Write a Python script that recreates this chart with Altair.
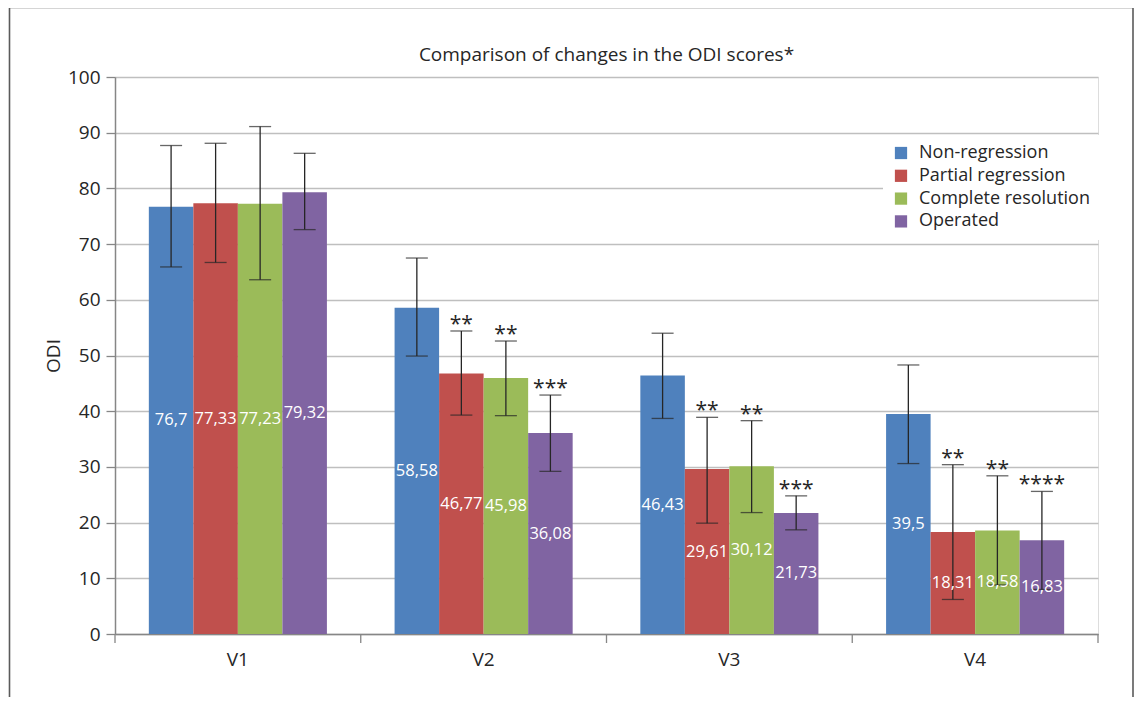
import altair as alt
import pandas as pd

visits = ["V1", "V2", "V3", "V4"]
groups = ["Non-regression", "Partial regression", "Complete resolution", "Operated"]
colors = ["#4F81BD", "#C0504D", "#9BBB59", "#8064A2"]
title_text = ["Comparison of changes in the ODI scores*"]

non_reg = [76.7, 58.58, 46.43, 39.5]
partial = [77.33, 46.77, 29.61, 18.31]
complete = [77.23, 45.98, 30.12, 18.58]
operated = [79.32, 36.08, 21.73, 16.83]

non_reg_lo = [65.9, 49.9, 38.7, 30.6]
non_reg_hi = [87.7, 67.5, 54.0, 48.3]
partial_lo = [66.7, 39.3, 19.9, 6.2]
partial_hi = [88.1, 54.4, 38.9, 30.4]
complete_lo = [63.6, 39.2, 21.8, 8.8]
complete_hi = [91.1, 52.6, 38.3, 28.4]
operated_lo = [72.6, 29.2, 18.7, 8.0]
operated_hi = [86.3, 42.9, 24.8, 25.6]

non_reg_stars = ["", "", "", ""]
partial_stars = ["", "**", "**", "**"]
complete_stars = ["", "**", "**", "**"]
operated_stars = ["", "***", "***", "****"]

series = [
    (non_reg, non_reg_lo, non_reg_hi, non_reg_stars),
    (partial, partial_lo, partial_hi, partial_stars),
    (complete, complete_lo, complete_hi, complete_stars),
    (operated, operated_lo, operated_hi, operated_stars),
]

rows = []
for vi, v in enumerate(visits):
    for g, (m, lo, hi, st) in zip(groups, series):
        rows.append(dict(visit=v, group=g, mean=m[vi], lo=lo[vi], hi=hi[vi],
                         stars=st[vi], label=str(m[vi]).replace(".", ",")))
df = pd.DataFrame(rows)

W, H = 983, 557
FONT = "Open Sans"
TXT = "#262626"
AX = "#868686"

xscale = alt.Scale(domain=visits, paddingInner=0, paddingOuter=0)
xaxis = alt.Axis(ticks=False, labelFontSize=19, labelFont=FONT, labelColor=TXT,
                 labelPadding=16, domainColor=AX, domainWidth=1.5, labelAngle=0)
yscale = alt.Scale(domain=[0, 100], nice=False)
yaxis = alt.Axis(values=list(range(0, 101, 10)), grid=True, gridColor="#BFBFBF",
                 gridWidth=1.3, domainColor=AX, domainWidth=1.5, tickColor=AX,
                 tickSize=9, tickWidth=1.3, labelPadding=6, labelFontSize=19,
                 labelFont=FONT, labelColor=TXT, titleFontSize=19, titleFont=FONT,
                 titleFontWeight="normal", titleColor=TXT, titlePadding=4)

X = alt.X("visit:N", scale=xscale, axis=xaxis, title=None)
XO = alt.XOffset("group:N", sort=groups,
                 scale=alt.Scale(domain=groups, paddingInner=0, paddingOuter=0.76))

def Y(field):
    return alt.Y(field, scale=yscale, axis=yaxis, title="ODI", stack=None)

base = alt.Chart(df).encode(x=X, xOffset=XO)

bars = base.mark_bar().encode(
    y=Y("mean:Q"),
    color=alt.Color("group:N", sort=groups,
                    scale=alt.Scale(domain=groups, range=colors),
                    legend=alt.Legend(title=None, orient="none", legendX=768, legendY=58,
                                      padding=9, fillColor="white",
                                      symbolType="square", symbolSize=150,
                                      symbolStrokeWidth=0, labelFontSize=18,
                                      labelFont=FONT, labelColor=TXT, labelOffset=9,
                                      labelLimit=0, rowPadding=4.8)),
)

err = base.mark_rule(color=TXT, strokeWidth=1.3).encode(y=Y("lo:Q"), y2="hi:Q")
cap_hi = base.mark_tick(color=TXT, size=22, thickness=1.3).encode(y=Y("hi:Q"))
cap_lo = base.mark_tick(color=TXT, size=22, thickness=1.3).encode(y=Y("lo:Q"))

labels = base.transform_calculate(mid="datum.mean / 2").mark_text(
    color="white", fontSize=16.5, font=FONT, baseline="middle", align="center"
).encode(y=Y("mid:Q"), text="label:N")

stars = base.mark_text(color=TXT, fontSize=21, font=FONT, baseline="alphabetic",
                       align="center", dy=0).encode(y=Y("hi:Q"), text="stars:N")

tick_df = pd.DataFrame({"visit": visits})
xticks = alt.Chart(tick_df).mark_rule(color=AX, strokeWidth=1.3).encode(
    x=alt.X("visit:N", scale=xscale, axis=xaxis, title=None, bandPosition=0),
    y=alt.value(H), y2=alt.value(H + 9))
end_tick = alt.Chart(pd.DataFrame({"k": [0]})).mark_rule(color=AX, strokeWidth=1.3).encode(
    x=alt.value(W), y=alt.value(H), y2=alt.value(H + 9))

frame = alt.Chart(pd.DataFrame({"k": [0]})).mark_rect(
    fillOpacity=0, stroke="#5A5A5A", strokeWidth=1.6).encode(
    x=alt.value(-105.5), x2=alt.value(1018), y=alt.value(-69.5), y2=alt.value(H + 120))

title = alt.Chart(pd.DataFrame({"t": title_text})).mark_text(
    fontSize=19, font=FONT, color=TXT, baseline="middle", align="center").encode(
    x=alt.value(W / 2), y=alt.value(-22), text="t:N")

chart = alt.layer(frame, bars, err, cap_hi, cap_lo, labels, stars, xticks, end_tick,
                  title).properties(
    width=W, height=H,
    autosize=alt.AutoSizeParams(type="none"),
    padding={"left": 107, "top": 69, "right": 37, "bottom": 63},
).configure_view(stroke=None).configure(background="white")

chart.save("out.html", embed_options={"renderer": "svg", "actions": False})
